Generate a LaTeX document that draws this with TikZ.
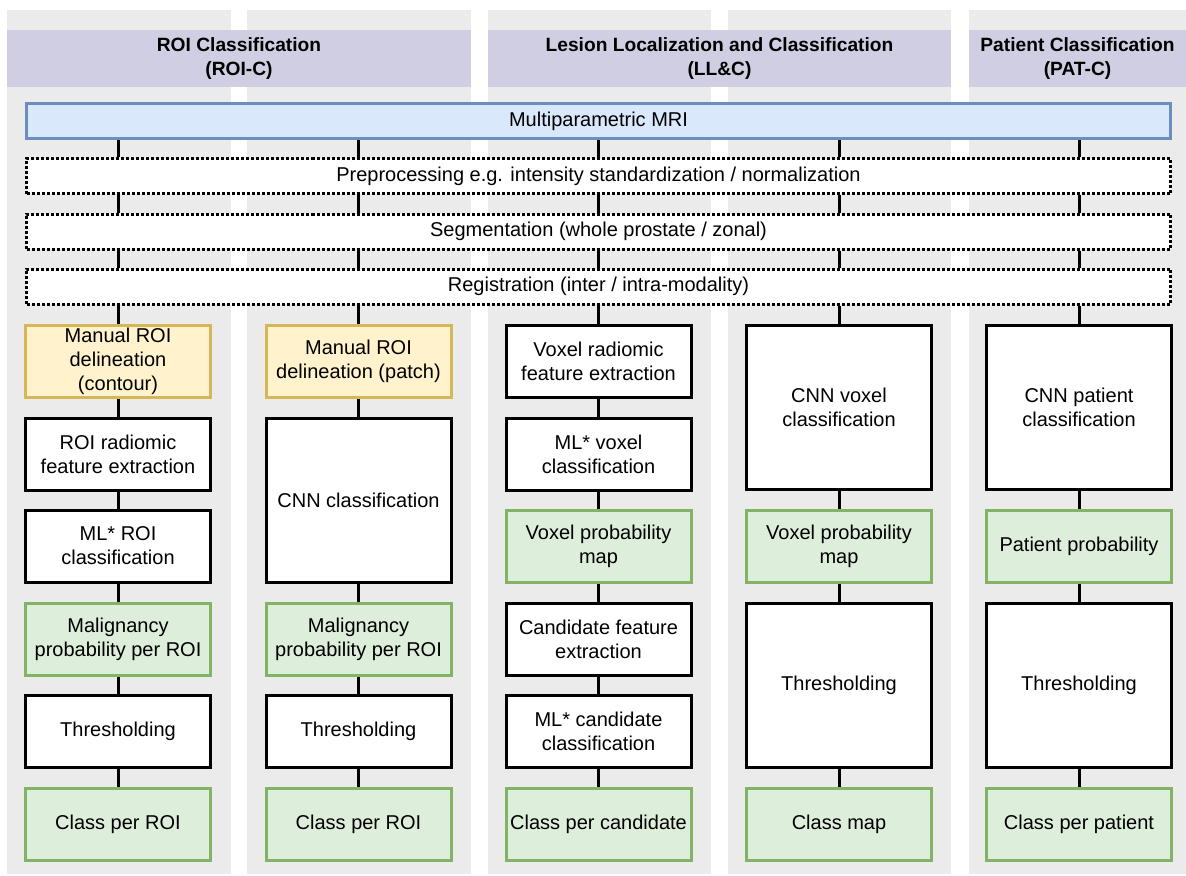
\documentclass[tikz,border=0pt]{standalone}
\usepackage{fontspec}
\setmainfont{Liberation Sans}
\usepackage{tikz}
\usetikzlibrary{positioning, calc}

\definecolor{colbg}{HTML}{EBEBEB}
\definecolor{headbg}{HTML}{D0CEE2}
\definecolor{mrifill}{HTML}{DAE8FC}
\definecolor{mriline}{HTML}{6C8EBF}
\definecolor{manualfill}{HTML}{FFF2CC}
\definecolor{manualline}{HTML}{D6B656}
\definecolor{resultfill}{HTML}{DDEEDA}
\definecolor{resultline}{HTML}{82B366}

\begin{document}
\begin{tikzpicture}[x=0.5pt, y=-0.5pt,
    every node/.style={font=\fontsize{10}{12}\selectfont, align=center},
    header/.style={rectangle, fill=headbg, minimum height=28.5pt, inner sep=0pt,
      font=\fontsize{9.6}{12}\selectfont\bfseries},
    wide/.style={rectangle, draw, line width=1.5pt, fill=white, minimum width=572pt,
      minimum height=17.5pt, inner sep=0pt},
    dottedbox/.style={wide, dash pattern=on 1.5pt off 1pt},
    box/.style={rectangle, draw, line width=1.5pt, fill=white, minimum width=92.5pt,
      minimum height=36pt, inner sep=1pt},
    tall/.style={box, minimum height=82pt},
    manual/.style={box, draw=manualline, fill=manualfill},
    result/.style={box, draw=resultline, fill=resultfill},
    link/.style={line width=1.5pt}]
  \useasboundingbox (0,0) rectangle (1186,875);

  % Column backgrounds
  \fill[colbg] (7,10) rectangle (231,874);
  \fill[colbg] (247,10) rectangle (471,874);
  \fill[colbg] (488,10) rectangle (711,874);
  \fill[colbg] (728,10) rectangle (951,874);
  \fill[colbg] (969,10) rectangle (1186,874);

  % Headers
  \node[header, minimum width=232pt] (hdroi) at (239,58.5) {ROI Classification\\(ROI-C)};
  \node[header, minimum width=231.5pt] (hdllc) at (719.5,58.5) {Lesion Localization and Classification\\(LL\&C)};
  \node[header, minimum width=108.5pt] (hdpat) at (1077.5,58.5) {Patient Classification\\(PAT-C)};

  % Shared steps
  \node[wide, draw=mriline, fill=mrifill] (mri) at (598.5,121) {Multiparametric MRI};
  \node[dottedbox] (pre) at (598.5,176) {Preprocessing e.g. intensity standardization / normalization};
  \node[dottedbox] (seg) at (598.5,231.5) {Segmentation (whole prostate / zonal)};
  \node[dottedbox] (reg) at (598.5,286.5) {Registration (inter / intra-modality)};

  % ROI-C, contour
  \node[manual] (a1) at (118,361.5) {Manual ROI\\delineation\\(contour)};
  \node[box] (a2) at (118,454) {ROI radiomic\\feature extraction};
  \node[box] (a3) at (118,546) {ML* ROI\\classification};
  \node[result] (a4) at (118,639.5) {Malignancy\\probability per ROI};
  \node[box] (a5) at (118,731.5) {Thresholding};
  \node[result] (a6) at (118,824.5) {Class per ROI};

  % ROI-C, patch
  \node[manual] (b1) at (358.5,361.5) {Manual ROI\\delineation (patch)};
  \node[tall] (b2) at (358.5,500) {CNN classification};
  \node[result] (b3) at (358.5,639.5) {Malignancy\\probability per ROI};
  \node[box] (b4) at (358.5,731.5) {Thresholding};
  \node[result] (b5) at (358.5,824.5) {Class per ROI};

  % LL&C, radiomics
  \node[box] (c1) at (598.5,361.5) {Voxel radiomic\\feature extraction};
  \node[box] (c2) at (598.5,454) {ML* voxel\\classification};
  \node[result] (c3) at (598.5,546) {Voxel probability\\map};
  \node[box] (c4) at (598.5,639.5) {Candidate feature\\extraction};
  \node[box] (c5) at (598.5,731.5) {ML* candidate\\classification};
  \node[result] (c6) at (598.5,824.5) {Class per candidate};

  % LL&C, CNN
  \node[tall] (d1) at (839,407.5) {CNN voxel\\classification};
  \node[result] (d2) at (839,546) {Voxel probability\\map};
  \node[tall] (d3) at (839,685.5) {Thresholding};
  \node[result] (d4) at (839,824.5) {Class map};

  % PAT-C
  \node[tall] (e1) at (1079,407.5) {CNN patient\\classification};
  \node[result] (e2) at (1079,546) {Patient probability};
  \node[tall] (e3) at (1079,685.5) {Thresholding};
  \node[result] (e4) at (1079,824.5) {Class per patient};

  % Links
  \foreach \c in {a1,b1,c1,d1,e1} {
    \draw[link] (mri.south -| \c) -- (pre.north -| \c);
    \draw[link] (pre.south -| \c) -- (seg.north -| \c);
    \draw[link] (seg.south -| \c) -- (reg.north -| \c);
    \draw[link] (reg.south -| \c) -- (\c.north);
  }
  \foreach \u/\v in {a1/a2,a2/a3,a3/a4,a4/a5,a5/a6,
                     b1/b2,b2/b3,b3/b4,b4/b5,
                     c1/c2,c2/c3,c3/c4,c4/c5,c5/c6,
                     d1/d2,d2/d3,d3/d4,
                     e1/e2,e2/e3,e3/e4}
    \draw[link] (\u) -- (\v);
\end{tikzpicture}
\end{document}
